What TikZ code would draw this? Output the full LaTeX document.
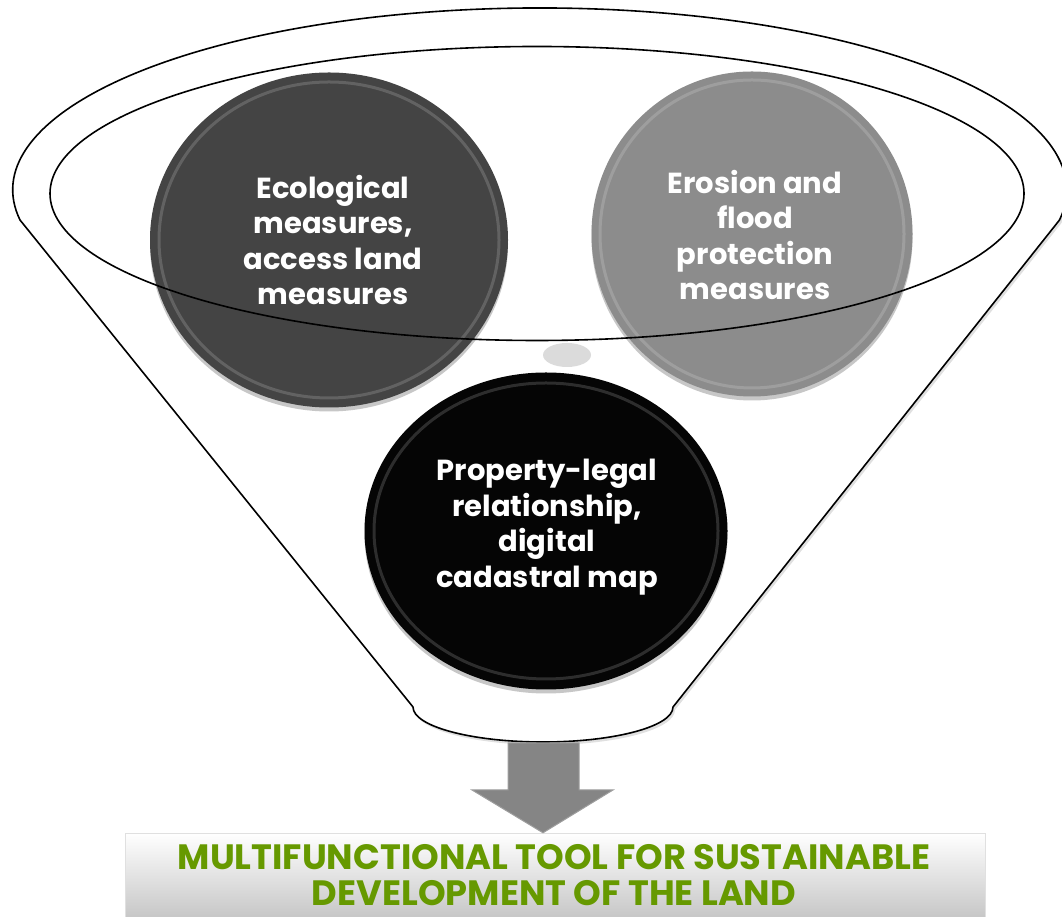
\documentclass[tikz,border=0pt]{standalone}
\usepackage{fontspec}
\setmainfont{Poppins}
\usetikzlibrary{shapes.geometric}

\definecolor{ecogray}{HTML}{444444}
\definecolor{erogray}{HTML}{8C8C8C}
\definecolor{propblack}{HTML}{050505}
\definecolor{toolgreen}{HTML}{669900}

\begin{document}
\begin{tikzpicture}[x=1pt, y=1pt, every node/.style={inner sep=0pt},
  ball/.style={ellipse, draw=none, preaction={fill=black!22, transform canvas={yshift=-4pt}}},
  rim/.style={draw=white, draw opacity=0.16, line width=3pt},
  balltext/.style={text=white, align=center, font=\fontsize{29}{35.5}\selectfont\bfseries},
  funnelline/.style={draw=black, line width=1.6pt, line join=round},
  toolbox/.style={rectangle, draw=black!12, top color=white, bottom color=black!22, minimum width=860, minimum height=84},
  tooltext/.style={text=toolgreen, align=center, font=\fontsize{35.2}{36}\selectfont\bfseries}]
  \useasboundingbox (0,0) rectangle (1062,917);

  % Funnel
  \path[funnelline, fill=white, preaction={fill=black!12, transform canvas={xshift=2pt, yshift=-3pt}}]
    (20,697) arc[start angle=189.5, end angle=-9.5, x radius=527, y radius=182]
    -- (673,210) arc[start angle=360, end angle=180, x radius=130, y radius=35]
    -- cycle;
  \fill[black!14] (567,562) ellipse[x radius=24, y radius=12];

  % Nodes
  \node[ball, fill=ecogray, minimum width=358, minimum height=335] (eco) at (329,677) {};
  \node[ball, fill=erogray, minimum width=321, minimum height=325] (ero) at (752,683) {};
  \node[ball, fill=propblack, minimum width=363, minimum height=317] (prop) at (546,386) {};
  \draw[rim] (eco.center) ellipse[x radius=170, y radius=158];
  \draw[rim] (ero.center) ellipse[x radius=152, y radius=154];
  \draw[rim] (prop.center) ellipse[x radius=172, y radius=148];

  % Texts
  \node[balltext] (ecotext) at (333,677) {Ecological\\measures,\\access land\\measures};
  \node[balltext] (erotext) at (755,682) {Erosion and\\flood\\protection\\measures};
  \node[balltext] (proptext) at (547,390) {Property-legal\\relationship,\\digital\\cadastral map};

  % Inner rim of the funnel
  \draw[funnelline] (537,723.5) ellipse[x radius=487, y radius=147];

  % Result
  \node[toolbox] (tool) at (555,42) {};
  \node[tooltext] (tooltext) at (554,42) {MULTIFUNCTIONAL TOOL FOR SUSTAINABLE\\DEVELOPMENT OF THE LAND};
  \filldraw[fill=black!48, draw=black!38, line width=1pt]
    (508,174) -- (579,174) -- (579,127) -- (613,127) -- (tool.north -| 543,0) -- (472,127) -- (508,127) -- cycle;
\end{tikzpicture}
\end{document}
